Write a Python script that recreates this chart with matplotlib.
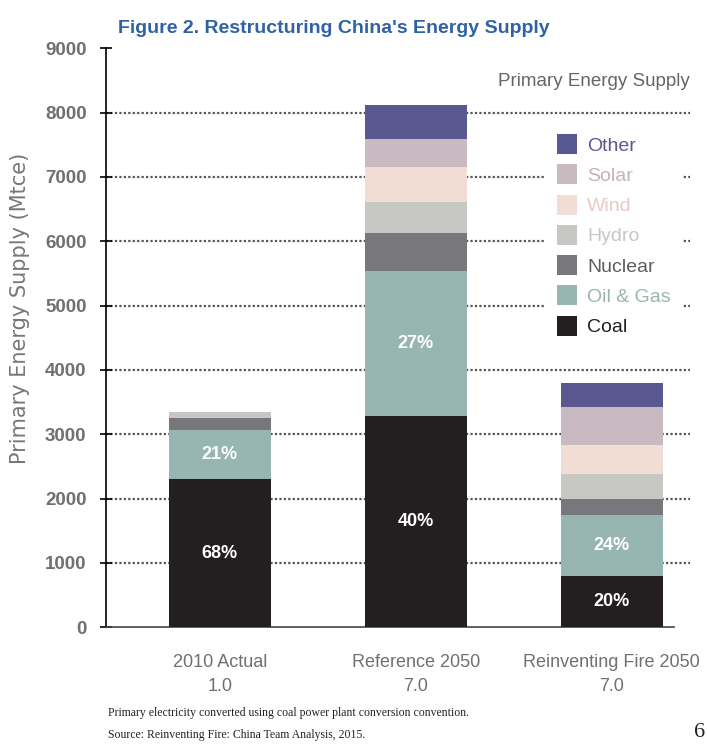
import matplotlib
matplotlib.use("Agg")
import matplotlib.pyplot as plt
import numpy as np
from matplotlib.patches import Patch

scenarios = ["2010 Actual\n1.0", "Reference 2050\n7.0", "Reinventing Fire 2050\n7.0"]
sources = ["Coal", "Oil & Gas", "Nuclear", "Hydro", "Wind", "Solar", "Other"]
coal = [2300, 3280, 790]
oil_gas = [760, 2260, 960]
nuclear = [200, 590, 240]
hydro = [90, 480, 390]
wind = [0, 550, 460]
solar = [0, 430, 580]
other = [0, 530, 380]
coal_pct = ["68%", "40%", "20%"]
oil_pct = ["21%", "27%", "24%"]
yticks = [0, 1000, 2000, 3000, 4000, 5000, 6000, 7000, 8000, 9000]

colors = ["#231f20", "#98b6b1", "#78777c", "#c7c7c4", "#f1ddd3", "#c9b9c1", "#5a5890"]
text_colors = ["#231f20", "#98b6b1", "#5e5d62", "#c7c7c4", "#e8c9c6", "#c3b3bb", "#5a5890"]

cond = ["Liberation Sans", "DejaVu Sans"]
gray = "#707070"

fig = plt.figure(figsize=(7.07, 7.44), dpi=100)
ax = fig.add_axes([0.150, 0.157, 0.826, 0.778])

x = np.arange(len(scenarios))
series = [coal, oil_gas, nuclear, hydro, wind, solar, other]
bottom = np.zeros(len(scenarios))
for vals, c in zip(series, colors):
    ax.bar(x, vals, width=0.52, bottom=bottom, color=c, zorder=3)
    bottom += np.array(vals)

# dotted gridlines behind the bars
for yv in yticks[1:-1]:
    ax.axhline(yv, color="#555555", ls=(0, (1, 1)), lw=1.6, zorder=1)

# percent labels
for i in range(len(scenarios)):
    ax.text(x[i], coal[i] / 2, coal_pct[i], ha="center", va="center", color="white",
            fontsize=13, fontweight="bold", family=cond, zorder=4)
    ax.text(x[i], coal[i] + oil_gas[i] / 2, oil_pct[i], ha="center", va="center",
            color="white", fontsize=13, fontweight="bold", family=cond, zorder=4)

ax.set_xlim(-0.58, 2.40)
ax.set_ylim(0, 9000)
ax.set_yticks(yticks)
ax.set_yticklabels([str(v) for v in yticks], family=cond, fontweight="bold",
                   fontsize=13.5, color=gray)
ax.set_xticks(x)
ax.set_xticklabels(scenarios, fontsize=13, color=gray, linespacing=1.55, family=cond)
ax.tick_params(axis="x", length=0, pad=19)
ax.tick_params(axis="y", direction="inout", length=8, width=1.2, pad=10)
for s in ["top", "right"]:
    ax.spines[s].set_visible(False)
ax.spines["left"].set_linewidth(1.2)
ax.spines["bottom"].set_color("#444444")
ax.spines["bottom"].set_linewidth(1.2)
ax.spines["bottom"].set_bounds(-0.58, 2.32)

ax.set_ylabel("Primary Energy Supply (Mtce)", fontsize=15, color="#777777")
ax.yaxis.set_label_coords(-0.13, 0.55)

ax.text(2.40, 8620, "Primary Energy Supply", ha="right", va="top", fontsize=13.5,
        color="#666666", family=cond)

handles = [Patch(facecolor=c) for c in colors][::-1]
leg = ax.legend(handles, sources[::-1], loc="upper left", bbox_to_anchor=(0.752, 0.872),
                frameon=True, facecolor="white", edgecolor="none", framealpha=1,
                fancybox=False, borderpad=0.6, prop={"family": cond, "size": 14},
                handlelength=1.05, handleheight=1.2, labelspacing=0.5,
                handletextpad=0.5, borderaxespad=0)
for t, c in zip(leg.get_texts(), text_colors[::-1]):
    t.set_color(c)

fig.text(0.167, 0.962, "Figure 2. Restructuring China's Energy Supply", fontsize=14,
         fontweight="bold", family=cond, color="#2f62a5", va="center")
fig.text(0.153, 0.041, "Primary electricity converted using coal power plant conversion convention.",
         fontsize=8.5, family="Liberation Serif", color="#222222", va="center")
fig.text(0.153, 0.012, "Source: Reinventing Fire: China Team Analysis, 2015.",
         fontsize=8.5, family="Liberation Serif", color="#222222", va="center")
fig.text(0.998, 0.016, "6", fontsize=16, family="Liberation Serif", color="#222222",
         va="center", ha="right")

fig.savefig("out.png", dpi=100)
